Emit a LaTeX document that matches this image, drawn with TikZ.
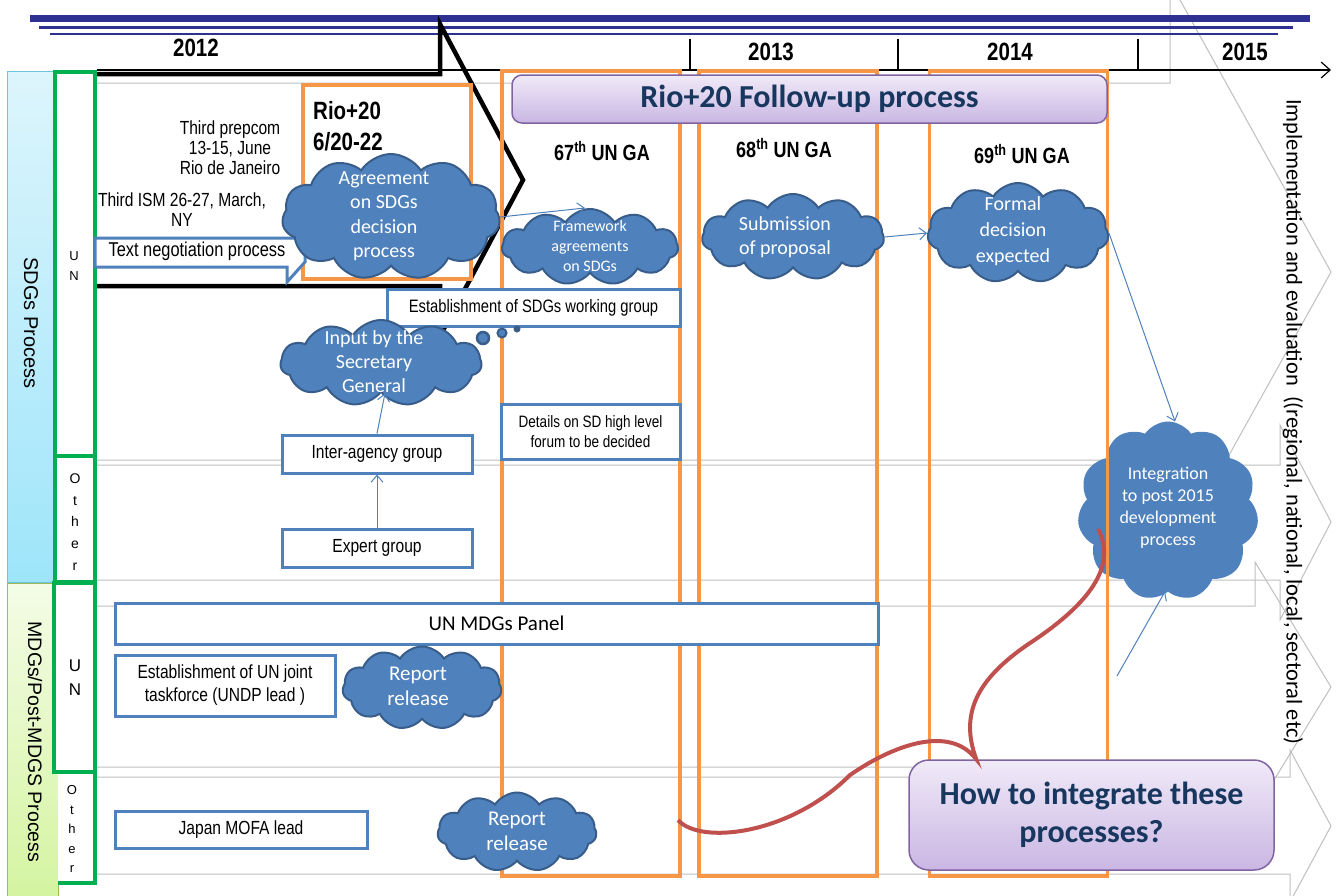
\documentclass[tikz,border=0pt]{standalone}
\usepackage{fontspec}
\setmainfont{Liberation Sans}
\newfontfamily\narfnt[FakeStretch=0.82]{Liberation Sans}
\newfontfamily\calfnt{Carlito}
\usetikzlibrary{shapes.symbols,arrows.meta}
\definecolor{topblue}{HTML}{2E3192}
\definecolor{lanegray}{HTML}{BFBFBF}
\definecolor{boxblue}{HTML}{4F81BD}
\definecolor{cloudblue}{HTML}{4F81BD}
\definecolor{cloudedge}{HTML}{385D8A}
\definecolor{orange1}{HTML}{F79646}
\definecolor{green1}{HTML}{00B050}
\definecolor{red1}{HTML}{C0504D}
\definecolor{navy}{HTML}{17375E}
\definecolor{purpedge}{HTML}{8064A2}
\definecolor{purptop}{HTML}{F0EAF8}
\definecolor{purpbot}{HTML}{CAB6E3}
\definecolor{cyantop}{HTML}{DDF5FC}
\definecolor{cyanbot}{HTML}{9EE5FA}
\definecolor{cyanedge}{HTML}{6FC3DA}
\definecolor{greentop}{HTML}{F4FCE6}
\definecolor{greenbot}{HTML}{D4F4A0}
\definecolor{greenedge}{HTML}{9BBB59}
\begin{document}
\begin{tikzpicture}[x=1pt,y=-1pt,
  lane/.style={draw=lanegray, line width=1pt},
  bbox/.style={draw=boxblue, line width=3pt, fill=white, inner sep=0pt, align=center, font=\narfnt\fontsize{19}{23}\selectfont},
  obox/.style={draw=orange1, line width=3.5pt, inner sep=0pt},
  gbox/.style={draw=green1, line width=4.5pt, fill=white},
  cloudn/.style={cloud, cloud puffs=11, cloud puff arc=115, cloud ignores aspect, draw=cloudedge, fill=cloudblue, line width=2pt, inner sep=0pt},
  ctext/.style={text=white, align=center, inner sep=0pt},
  conn/.style={draw=boxblue, line width=1pt, -{Straight Barb[length=7pt,width=12pt]}},
  pbox/.style={rounded corners=10pt, draw=purpedge, line width=1.5pt, top color=purptop, bottom color=purpbot, inner sep=0pt},
  yr/.style={font=\narfnt\bfseries\fontsize{25}{28}\selectfont},
  ga/.style={font=\narfnt\bfseries\fontsize{22}{25}\selectfont},
  lett/.style={align=center, inner sep=0pt},
  plain/.style={align=center, inner sep=0pt, font=\narfnt\fontsize{19}{20}\selectfont}
]
\useasboundingbox (0,0) rectangle (1336,895);
\clip (0,0) rectangle (1336,895);
\fill[white] (0,0) rectangle (1336,895);

% lane chevrons
\draw[lane] (97,83) -- (1170,83) -- (1170,-18) -- (1331,272) -- (1170,561) -- (1170,460) -- (97,460);
\draw[lane] (97,465) -- (1280,465) -- (1280,425) -- (1331,522) -- (1280,620) -- (1280,580) -- (97,580);
\draw[lane] (97,606) -- (1255,606) -- (1255,562) -- (1331,687) -- (1255,811) -- (1255,767) -- (97,767);
\draw[lane] (97,777) -- (1290,777) -- (1290,750) -- (1331,826) -- (1290,902) -- (1290,874) -- (97,874);

% timeline
\coordinate (axs) at (97,70);
\coordinate (axe) at (1331,70);
\draw[line width=1.2pt, -{Straight Barb[length=9pt,width=16pt]}] (axs) -- (axe);
\draw[line width=2pt] (690,39) -- (690,70);
\draw[line width=2pt] (898,39) -- (898,70);
\draw[line width=2pt] (1138,39) -- (1138,70);
\node[yr] (y12) at (196,48) {2012};
\node[yr] (y13) at (771,52) {2013};
\node[yr] (y14) at (1010,52) {2014};
\node[yr] (y15) at (1245,52) {2015};

% top blue lines
\fill[topblue] (30,14.5) rectangle (1310,21.5);
\fill[topblue] (39,26) rectangle (1293,29);
\fill[topblue] (50,32.7) rectangle (1278,35);

% black chevron
\draw[line width=4.5pt, line join=miter] (97,74) -- (440,74) -- (440,24) -- (523,180) -- (440,336) -- (440,286) -- (97,286);

% left bands
\draw[draw=cyanedge, line width=1pt, top color=cyantop, bottom color=cyanbot] (7,71) rectangle (53,582);
\draw[draw=greenedge, line width=1pt, top color=greentop, bottom color=greenbot] (7,583) rectangle (58,900);
\node[rotate=-90, font=\fontsize{20}{24}\selectfont, inner sep=0pt] (sdgl) at (31,323) {SDGs Process};
\node[rotate=-90, font=\fontsize{19.5}{24}\selectfont, inner sep=0pt] (mdgl) at (35,742) {MDGs/Post-MDGS Process};

% green boxes
\draw[gbox] (55,72) rectangle (95,456);
\draw[gbox] (55,456) rectangle (95,582);
\draw[gbox] (54,583) rectangle (95,772);
\fill[white] (58,772) rectangle (95,883);
\draw[green1, line width=4.5pt] (58,772) -- (95,772) -- (95,883) -- (58,883);
\node[lett, font=\fontsize{13}{20}\selectfont] (l1) at (74,266) {U\\N};
\node[lett, font=\fontsize{14}{21.75}\selectfont] (l2) at (75,522) {O\\t\\h\\e\\r};
\node[lett, font=\fontsize{17}{24}\selectfont] (l3) at (75,678) {U\\N};
\node[lett, font=\fontsize{13}{19.5}\selectfont] (l4) at (72,829) {O\\t\\h\\e\\r};

% integration cloud (under orange)
\node[cloudn, draw=cloudblue, minimum width=179pt, minimum height=177pt] (integ) at (1168,511) {};
\node[ctext, font=\calfnt\fontsize{18}{22}\selectfont] (integt) at (1168,508) {Integration\\to post 2015\\development\\process};

% orange year boxes
\node[obox, minimum width=178pt, minimum height=805pt] (ga67) at (591,473.5) {};
\node[obox, minimum width=178pt, minimum height=805pt] (ga68) at (788,473.5) {};
\node[obox, minimum width=178pt, minimum height=805pt] (ga69) at (1018.5,473.5) {};
\node[obox, minimum width=168pt, minimum height=194pt] (rio) at (387,182) {};
\node[anchor=west, align=left, inner sep=0pt, font=\narfnt\bfseries\fontsize{25}{31}\selectfont] (riot) at (313,126) {Rio+20\\6/20-22};

% follow-up box
\node[pbox, minimum width=595pt, minimum height=48pt, font=\calfnt\bfseries\fontsize{32}{36}\selectfont, text=navy] (fu) at (809.5,99) {Rio+20 Follow-up process};
\node[ga] (g67) at (602,151) {67\textsuperscript{th} UN GA};
\node[ga] (g68) at (784,148) {68\textsuperscript{th} UN GA};
\node[ga] (g69) at (1022,154) {69\textsuperscript{th} UN GA};

% upper-left texts
\node[plain] (prep) at (230,148) {Third prepcom\\13-15, June\\Rio de Janeiro};
\node[plain] (ism) at (182,210) {Third ISM 26-27, March,\\NY};
\draw[draw=boxblue, line width=3pt, fill=white] (95,238) -- (305,238) -- (305,262) -- (287,282) -- (287,267) -- (95,267) -- cycle;
\node[inner sep=0pt, font=\narfnt\fontsize{20}{22}\selectfont] (tn) at (197,251) {Text negotiation process};

% boxes
\node[bbox, font=\narfnt\fontsize{18}{22}\selectfont, minimum width=293pt, minimum height=37pt] (wg) at (533.5,307.5) {Establishment of SDGs working group};
\node[bbox, font=\narfnt\fontsize{16.5}{20}\selectfont, minimum width=179pt, minimum height=55pt] (det) at (590.5,431.5) {Details on SD high level\\forum to be decided};
\node[bbox, minimum width=190pt, minimum height=38pt] (inter) at (377,454) {Inter-agency group};
\node[bbox, minimum width=190pt, minimum height=38pt] (expert) at (377,548) {Expert group};
\node[bbox, font=\calfnt\fontsize{21}{24}\selectfont, minimum width=763pt, minimum height=41pt] (panel) at (496.5,623.5) {UN MDGs Panel};
\node[bbox, minimum width=220pt, minimum height=61pt] (task) at (225,685.5) {Establishment of UN joint\\taskforce (UNDP lead )};
\node[bbox, minimum width=252pt, minimum height=37pt] (japan) at (241,829.5) {Japan MOFA lead};

% clouds
\node[cloudn, minimum width=218pt, minimum height=126pt] (agree) at (391,217) {};
\node[ctext, font=\calfnt\fontsize{20}{24.5}\selectfont] (agreet) at (384,216) {Agreement\\on SDGs\\decision\\process};
\node[cloudn, minimum width=176pt, minimum height=76pt] (frame) at (590,247) {};
\node[ctext, font=\calfnt\fontsize{16}{20}\selectfont] (framet) at (590,246) {Framework\\agreements\\on SDGs};
\node[cloudn, minimum width=182pt, minimum height=86pt] (submit) at (793,237) {};
\node[ctext, font=\calfnt\fontsize{20}{24}\selectfont] (submitt) at (785,237) {Submission\\of proposal};
\node[cloudn, minimum width=181pt, minimum height=100pt] (formal) at (1018,233) {};
\node[ctext, font=\calfnt\fontsize{20}{26}\selectfont] (formalt) at (1013,231) {Formal\\decision\\expected};
\node[cloudn, minimum width=201pt, minimum height=86pt] (input) at (381,363) {};
\node[ctext, font=\calfnt\fontsize{20}{24}\selectfont] (inputt) at (374,362) {Input by the\\Secretary\\General};
\node[cloudn, minimum width=159pt, minimum height=83pt] (rep1) at (422,688) {};
\node[ctext, font=\calfnt\fontsize{21}{25}\selectfont] (rep1t) at (418,686) {Report\\release};
\node[cloudn, minimum width=159pt, minimum height=79pt] (rep2) at (517,832) {};
\node[ctext, font=\calfnt\fontsize{21}{25}\selectfont] (rep2t) at (517,831) {Report\\release};

% thought bubbles
\node[circle, draw=cloudedge, fill=cloudblue, line width=2.5pt, minimum size=12pt, inner sep=0pt] (tb1) at (483,338) {};
\node[circle, draw=cloudedge, fill=cloudblue, line width=2pt, minimum size=9pt, inner sep=0pt] (tb2) at (502,333) {};
\node[circle, fill=cloudedge, minimum size=7pt, inner sep=0pt] (tb3) at (517,329) {};

% connectors
\draw[conn] (agree.east) -- ([xshift=-5pt]frame.north);
\draw[conn] (submit.east) -- (formal.west);
\draw[conn] (formal.east) -- ([xshift=7pt]integ.north);
\draw[conn] (expert.north) -- (inter.south);
\draw[conn] (inter.north) -- ([xshift=4pt]input.south);
\coordinate (fs) at (1117,676);
\draw[conn] (fs) -- ([xshift=-3pt]integ.south);

% how box and red curve
\node[pbox, rounded corners=20pt, minimum width=365pt, minimum height=110pt, align=center, font=\calfnt\bfseries\fontsize{32}{38}\selectfont, text=navy] (how) at (1091.5,815) {How to integrate these\\processes?};
\coordinate (rs) at (678,820);
\coordinate (hj) at ([xshift=68pt]how.north west);
\coordinate (re) at (1098,529);
\draw[draw=red1, line width=4pt] (rs) .. controls (700,845) and (790,835) .. (850,775) .. controls (895,744) and (950,725) .. (hj) .. controls (960,715) and (975,680) .. (1030,643) .. controls (1080,610) and (1120,570) .. (re);

% implementation label
\node[rotate=-90, inner sep=0pt, font=\calfnt\fontsize{22.5}{24}\selectfont] (impl) at (1293,422) {Implementation and evaluation\ \ ((regional, national, local, sectoral etc)};
\end{tikzpicture}
\end{document}
